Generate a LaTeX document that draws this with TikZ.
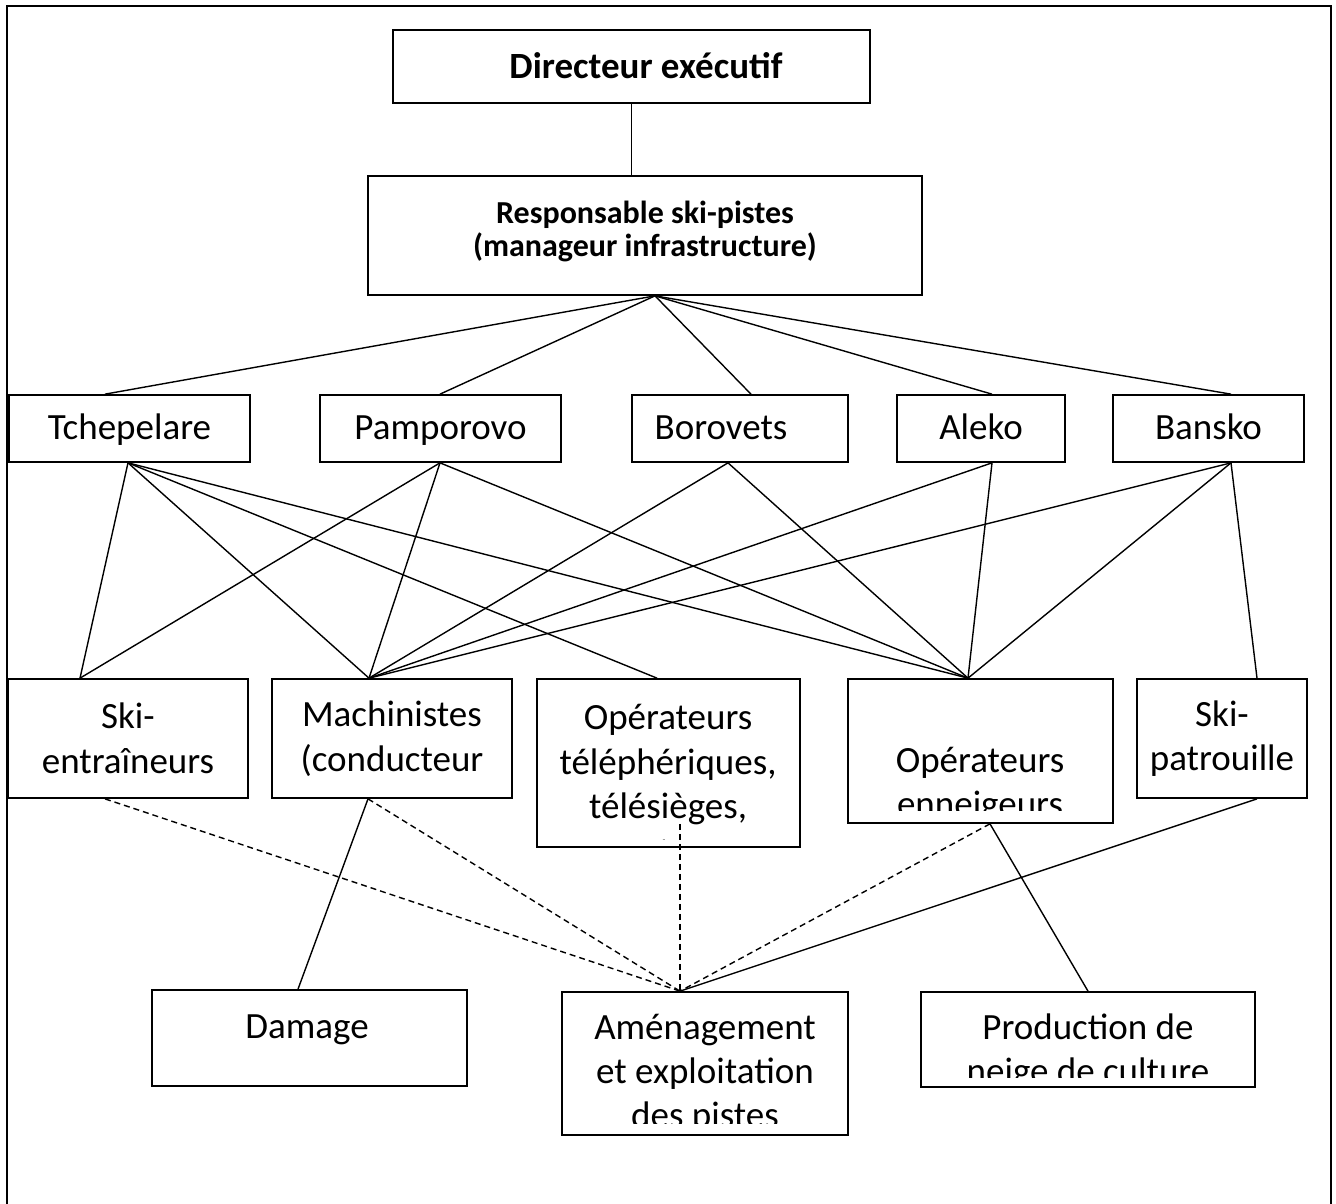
\documentclass[tikz,border=0pt]{standalone}
\usepackage{fontspec}
\setmainfont{Carlito}
\usetikzlibrary{calc}
\begin{document}
\begin{tikzpicture}[x=1pt,y=-1pt,
  box/.style={draw, line width=1.7pt, inner sep=0pt, align=center, font=\fontsize{37}{44.5}\selectfont},
  one/.style={text height=28, text depth=7},
  txt/.style={inner sep=0pt, align=center, font=\fontsize{37}{44}\selectfont},
  conn/.style={line width=1.4pt},
  dsh/.style={line width=1.4pt, dash pattern=on 6pt off 4pt}]
\useasboundingbox (0,0) rectangle (1336,1204);
% outer frame
\draw[line width=2.6pt] (7,1204) -- (7,6) -- (1331,6) -- (1331,1204);

% level 0/1
\node[box, minimum width=477, minimum height=73] (dir) at (631.5,66.5) {};
\node[txt, one, font=\bfseries\fontsize{37}{44}\selectfont] (dirT) at (646,68.5) {Directeur exécutif};
\node[box, minimum width=554, minimum height=119] (resp) at (645,235.5) {};
\node[txt, font=\bfseries\fontsize{32}{33}\selectfont] (respT) at (645,231.5) {Responsable ski-pistes\\(manageur infrastructure)};

% level 2
\node[box, one, minimum width=241, minimum height=67] (tch) at (129.5,428.5) {Tchepelare};
\node[box, one, minimum width=241, minimum height=67] (pam) at (440.5,428.5) {Pamporovo};
\node[box, one, minimum width=216, minimum height=67] (bor) at (740,428.5) {Borovets\hspace*{38pt}};
\node[box, one, minimum width=168, minimum height=67] (ale) at (981,428.5) {Aleko};
\node[box, one, minimum width=191, minimum height=67] (ban) at (1208.5,428.5) {Bansko};

% level 3
\node[box, minimum width=240, minimum height=119] (ski) at (128,738.5) {Ski-\\entraîneurs};
\node[box, minimum width=240, minimum height=119] (mac) at (392,738.5) {Machinistes\\(conducteur};
\node[box, minimum width=263, minimum height=168] (opt) at (668.5,763) {};
\node[box, minimum width=265, minimum height=144] (ope) at (980.5,751) {};
\node[box, minimum width=170, minimum height=119] (pat) at (1222,738.5) {Ski-\\patrouille};

\begin{scope}
  \clip (opt.north west) rectangle ([yshift=8]opt.south east);
  \node[txt, font=\fontsize{37}{44.5}\selectfont] (optT) at (668,784) {Opérateurs\\téléphériques,\\télésièges,\\etc.};
\end{scope}
\begin{scope}
  \clip (ope.north west) rectangle ([yshift=13]ope.south east);
  \node[txt, font=\fontsize{37}{44.5}\selectfont] (opeT) at (980,785) {Opérateurs\\enneigeurs};
\end{scope}

% level 4
\node[box, minimum width=315, minimum height=96] (dam) at (309.5,1038) {};
\node[txt, one] (damT) at (307,1028) {Damage};
\node[box, minimum width=286, minimum height=143] (ame) at (705,1063.5) {};
\node[box, minimum width=334, minimum height=95] (pro) at (1088,1039.5) {};
\begin{scope}
  \clip (ame.north west) rectangle ([yshift=12]ame.south east);
  \node[txt] (ameT) at (705,1074) {Aménagement\\et exploitation\\des pistes};
\end{scope}
\begin{scope}
  \clip (pro.north west) rectangle ([yshift=10]pro.south east);
  \node[txt] (proT) at (1088,1051.5) {Production de\\neige de culture};
\end{scope}

% connectors top
\draw[conn] (dir.south) -- (dir.south |- resp.north);
\coordinate (rB) at ([xshift=10]resp.south);
\draw[conn] (rB) -- ([xshift=-24.5]tch.north);
\draw[conn] (rB) -- ([xshift=-0.5]pam.north);
\draw[conn] (rB) -- ([xshift=11]bor.north);
\draw[conn] (rB) -- ([xshift=11]ale.north);
\draw[conn] (rB) -- ([xshift=22.5]ban.north);

% level 2 -> level 3
\coordinate (tchB) at ([xshift=-1.5]tch.south);
\coordinate (pamB) at ([xshift=-0.5]pam.south);
\coordinate (borB) at ([xshift=-12]bor.south);
\coordinate (aleB) at ([xshift=11]ale.south);
\coordinate (banB) at ([xshift=22.5]ban.south);
\coordinate (skiN) at ([xshift=-48]ski.north);
\coordinate (macN) at ([xshift=-23]mac.north);
\coordinate (optN) at ([xshift=-11.5]opt.north);
\coordinate (opeN) at ([xshift=-12.5]ope.north);
\coordinate (patN) at ([xshift=35]pat.north);
\draw[conn] (tchB) -- (skiN);
\draw[conn] (tchB) -- (macN);
\draw[conn] (tchB) -- (optN);
\draw[conn] (tchB) -- (opeN);
\draw[conn] (pamB) -- (skiN);
\draw[conn] (pamB) -- (macN);
\draw[conn] (pamB) -- (opeN);
\draw[conn] (borB) -- (macN);
\draw[conn] (borB) -- (opeN);
\draw[conn] (aleB) -- (macN);
\draw[conn] (aleB) -- (opeN);
\draw[conn] (banB) -- (macN);
\draw[conn] (banB) -- (opeN);
\draw[conn] (banB) -- (patN);

% level 3 -> level 4
\coordinate (ameN) at ([xshift=-25]ame.north);
\coordinate (macB) at ([xshift=-24]mac.south);
\coordinate (opeB) at ([xshift=9.5]ope.south);
\draw[conn] (macB) -- ([xshift=-11.5]dam.north);
\draw[conn] (opeB) -- (pro.north);
\draw[conn] ([xshift=35]pat.south) -- (ameN);
\draw[dsh] ([xshift=-23]ski.south) -- (ameN);
\draw[dsh] (macB) -- (ameN);
\draw[dsh] (opeB) -- (ameN);
\draw[dsh] ([xshift=11.5,yshift=24]opt.south) -- (ameN);
\end{tikzpicture}
\end{document}
